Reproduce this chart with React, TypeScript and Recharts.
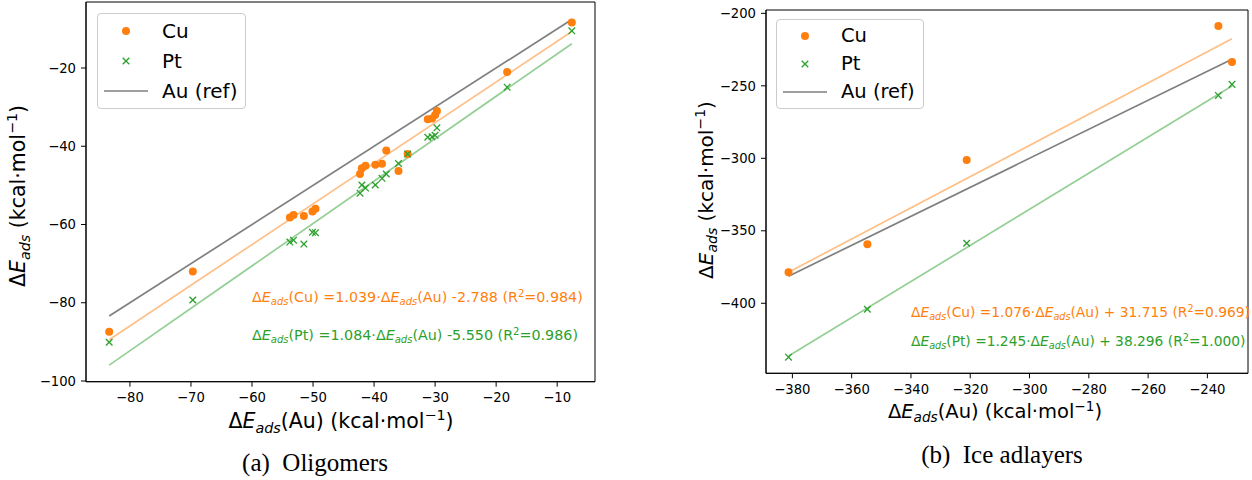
import React from 'react';
import { ScatterChart, Scatter, XAxis, YAxis, ReferenceArea, Legend } from 'recharts';

const ORANGE = '#ff7f0e';
const GREEN = '#2ca02c';
const ORANGE_FIT = '#ffbf86';
const GREEN_FIT = '#95cf95';
const GRAY = '#7f7f7f';
const FONT = '"DejaVu Sans", sans-serif';

// (a) Oligomers: ΔE_ads on Au (x) vs Cu / Pt (y), kcal/mol
const oligoAu = [-83.4, -69.7, -53.8, -53.2, -51.5, -50.1, -49.6, -42.3, -42.0, -41.4, -39.8, -38.7, -38.0, -36.0, -34.5, -31.2, -30.5, -30.0, -29.7, -18.2, -7.6];
const oligoCu = [-87.4, -72.0, -58.2, -57.6, -57.8, -56.7, -56.0, -47.1, -45.6, -45.0, -44.7, -44.5, -41.1, -46.3, -42.0, -33.1, -32.9, -32.0, -31.0, -21.0, -8.4];
const oligoPt = [-90.1, -79.3, -64.5, -64.0, -65.0, -62.0, -62.1, -52.0, -49.9, -50.7, -49.9, -48.2, -47.1, -44.4, -42.0, -37.7, -37.6, -37.2, -35.3, -24.9, -10.5];
const oligoCuFit = { slope: 1.039, intercept: -2.788, r2: '0.984' };
const oligoPtFit = { slope: 1.084, intercept: -5.55, r2: '0.986' };
const oligoXTicks = [-80, -70, -60, -50, -40, -30, -20, -10];
const oligoYTicks = [-100, -80, -60, -40, -20];

// (b) Ice adlayers
const iceAu = [-381.3, -354.7, -321.2, -236.3, -231.7];
const iceCu = [-378.6, -359.3, -301.2, -208.8, -233.6];
const icePt = [-437.2, -404.1, -358.6, -256.6, -249.0];
const iceCuFit = { slope: 1.076, intercept: 31.715, r2: '0.969' };
const icePtFit = { slope: 1.245, intercept: 38.296, r2: '1.000' };
const iceXTicks = [-380, -360, -340, -320, -300, -280, -260, -240];
const iceYTicks = [-400, -350, -300, -250, -200];

const pts = (xs: number[], ys: number[]) => xs.map((x, i) => ({ x, y: ys[i] }));
const fitLine = (xs: number[], f: { slope: number; intercept: number }) => {
  const lo = Math.min(...xs);
  const hi = Math.max(...xs);
  return [
    { x: lo, y: f.slope * lo + f.intercept },
    { x: hi, y: f.slope * hi + f.intercept },
  ];
};
const refLine = (xs: number[]) => {
  const lo = Math.min(...xs);
  const hi = Math.max(...xs);
  return [
    { x: lo, y: lo },
    { x: hi, y: hi },
  ];
};

const fmt = (v: number) => String(v).replace('-', '\u2212');

const Dot = (p: any) => <circle cx={p.cx} cy={p.cy} r={4} fill={ORANGE} />;
const Cross = (p: any) => (
  <g stroke={GREEN} strokeWidth={1.3}>
    <line x1={p.cx - 3.3} y1={p.cy - 3.3} x2={p.cx + 3.3} y2={p.cy + 3.3} />
    <line x1={p.cx - 3.3} y1={p.cy + 3.3} x2={p.cx + 3.3} y2={p.cy - 3.3} />
  </g>
);
const NoShape = () => <g />;

const ORDER = ['Cu', 'Pt', 'Au (ref)'];

const makeLegend = (rowH: number, fontSize: number) => (props: any) => {
  const items = (props.payload || [])
    .filter((e: any) => ORDER.includes(e.value))
    .sort((a: any, b: any) => ORDER.indexOf(a.value) - ORDER.indexOf(b.value));
  return (
    <div
      style={{
        border: '1px solid #cccccc',
        borderRadius: 4,
        background: 'rgba(255,255,255,0.8)',
        padding: '2px 8px 2px 0',
        fontFamily: FONT,
        fontSize,
        color: '#000',
      }}
    >
      {items.map((e: any) => (
        <div key={e.value} style={{ display: 'flex', alignItems: 'center', height: rowH }}>
          <svg width={58} height={rowH} style={{ display: 'block' }}>
            {e.value === 'Cu' && <circle cx={28} cy={rowH / 2} r={4} fill={ORANGE} />}
            {e.value === 'Pt' && (
              <g stroke={GREEN} strokeWidth={1.3}>
                <line x1={24.7} y1={rowH / 2 - 3.3} x2={31.3} y2={rowH / 2 + 3.3} />
                <line x1={24.7} y1={rowH / 2 + 3.3} x2={31.3} y2={rowH / 2 - 3.3} />
              </g>
            )}
            {e.value === 'Au (ref)' && (
              <line x1={6} y1={rowH / 2} x2={50} y2={rowH / 2} stroke={GRAY} strokeWidth={1.7} />
            )}
          </svg>
          <span style={{ marginLeft: 6, lineHeight: 1 }}>{e.value}</span>
        </div>
      ))}
    </div>
  );
};

type Part = { t: string; it?: boolean; sub?: boolean; sup?: boolean };

function Rich({ x, y, parts, size, fill, anchor, rotate, family }: any) {
  let shift = 0;
  const spans = parts.map((p: Part, i: number) => {
    const target = p.sub ? size * 0.22 : p.sup ? -size * 0.38 : 0;
    const dy = target - shift;
    shift = target;
    return (
      <tspan
        key={i}
        dy={dy}
        fontStyle={p.it ? 'italic' : 'normal'}
        fontSize={p.sub || p.sup ? size * 0.7 : size}
      >
        {p.t}
      </tspan>
    );
  });
  return (
    <text
      x={x}
      y={y}
      fontSize={size}
      fill={fill || '#000'}
      textAnchor={anchor || 'start'}
      fontFamily={family || FONT}
      style={{ whiteSpace: 'pre' }}
      transform={rotate ? `rotate(${rotate} ${x} ${y})` : undefined}
    >
      {spans}
    </text>
  );
}

const dE: Part[] = [{ t: 'Δ' }, { t: 'E', it: true }, { t: 'ads', it: true, sub: true }];
const yLabel: Part[] = [...dE, { t: ' (kcal·mol' }, { t: '−1', sup: true }, { t: ')' }];
const xLabel: Part[] = [...dE, { t: '(Au) (kcal·mol' }, { t: '−1', sup: true }, { t: ')' }];
const eq = (metal: string, f: { slope: number; intercept: number; r2: string }, digits: number): Part[] => {
  const icpt = f.intercept < 0 ? ` -${Math.abs(f.intercept).toFixed(digits)}` : ` + ${f.intercept.toFixed(digits)}`;
  return [
    ...dE,
    { t: `(${metal}) =${f.slope.toFixed(3)}·` },
    ...dE,
    { t: `(Au)${icpt} (R` },
    { t: '2', sup: true },
    { t: `=${f.r2})` },
  ];
};

type PanelProps = {
  left: number;
  width: number;
  height: number;
  margin: any;
  yAxisWidth: number;
  xAxisHeight: number;
  xDomain: [number, number];
  yDomain: [number, number];
  xTicks: number[];
  yTicks: number[];
  au: number[];
  cu: number[];
  pt: number[];
  cuFit: any;
  ptFit: any;
  legendPos: { left: number; top: number };
  rowH: number;
  legendFont: number;
};

function Panel(p: PanelProps) {
  const tickStyle = { fontSize: 13.2, fontFamily: FONT, fill: '#000' };
  return (
    <div style={{ position: 'absolute', left: p.left, top: 0 }}>
      <ScatterChart width={p.width} height={p.height} margin={p.margin}>
        <XAxis
          type="number"
          dataKey="x"
          domain={p.xDomain}
          allowDataOverflow
          ticks={p.xTicks}
          tickFormatter={fmt}
          height={p.xAxisHeight}
          tick={tickStyle}
          tickSize={5}
          tickMargin={6}
          stroke="#000"
          tickLine={{ stroke: '#000' }}
        />
        <YAxis
          type="number"
          dataKey="y"
          domain={p.yDomain}
          allowDataOverflow
          ticks={p.yTicks}
          tickFormatter={fmt}
          width={p.yAxisWidth}
          tick={tickStyle}
          tickSize={5}
          tickMargin={5}
          stroke="#000"
          tickLine={{ stroke: '#000' }}
        />
        <ReferenceArea
          x1={p.xDomain[0]}
          x2={p.xDomain[1]}
          y1={p.yDomain[0]}
          y2={p.yDomain[1]}
          fill="none"
          fillOpacity={0}
          stroke="#000"
          strokeWidth={1}
          ifOverflow="extendDomain"
        />
        <Scatter
          name="Au (ref)"
          data={refLine(p.au)}
          fill={GRAY}
          stroke={GRAY}
          line={{ stroke: GRAY, strokeWidth: 1.7 }}
          shape={NoShape}
          legendType="line"
          isAnimationActive={false}
        />
        <Scatter
          name="Cu fit"
          data={fitLine(p.au, p.cuFit)}
          fill={ORANGE_FIT}
          line={{ stroke: ORANGE_FIT, strokeWidth: 1.7 }}
          shape={NoShape}
          legendType="none"
          isAnimationActive={false}
        />
        <Scatter
          name="Pt fit"
          data={fitLine(p.au, p.ptFit)}
          fill={GREEN_FIT}
          line={{ stroke: GREEN_FIT, strokeWidth: 1.7 }}
          shape={NoShape}
          legendType="none"
          isAnimationActive={false}
        />
        <Scatter name="Cu" data={pts(p.au, p.cu)} fill={ORANGE} shape={Dot} legendType="circle" isAnimationActive={false} />
        <Scatter name="Pt" data={pts(p.au, p.pt)} fill={GREEN} shape={Cross} legendType="cross" isAnimationActive={false} />
        <Legend
          layout="vertical"
          align="center"
          verticalAlign="middle"
          content={makeLegend(p.rowH, p.legendFont)}
          wrapperStyle={{ left: p.legendPos.left, top: p.legendPos.top, width: 'auto', height: 'auto' }}
        />
      </ScatterChart>
    </div>
  );
}

export default function App() {
  return (
    <div style={{ position: 'absolute', left: 0, top: 0, width: 1252, height: 480, background: '#fff' }}>
      <Panel
        left={0}
        width={610}
        height={420}
        margin={{ top: 2, right: 15, bottom: 0, left: 0 }}
        yAxisWidth={86}
        xAxisHeight={38.3}
        xDomain={[-87.2, -3.8]}
        yDomain={[-100.18, -3.13]}
        xTicks={oligoXTicks}
        yTicks={oligoYTicks}
        au={oligoAu}
        cu={oligoCu}
        pt={oligoPt}
        cuFit={oligoCuFit}
        ptFit={oligoPtFit}
        legendPos={{ left: 97, top: 13 }}
        rowH={30}
        legendFont={20}
      />
      <Panel
        left={626}
        width={626}
        height={420}
        margin={{ top: 10, right: 4, bottom: 0, left: 0 }}
        yAxisWidth={140}
        xAxisHeight={46.7}
        xDomain={[-388.9, -226.3]}
        yDomain={[-448.3, -197.7]}
        xTicks={iceXTicks}
        yTicks={iceYTicks}
        au={iceAu}
        cu={iceCu}
        pt={icePt}
        cuFit={iceCuFit}
        ptFit={icePtFit}
        legendPos={{ left: 150, top: 19 }}
        rowH={28}
        legendFont={19.5}
      />
      <svg
        width={1252}
        height={480}
        style={{ position: 'absolute', left: 0, top: 0, pointerEvents: 'none' }}
      >
        <Rich x={25} y={196} parts={yLabel} size={20.5} anchor="middle" rotate={-90} />
        <Rich x={713} y={190} parts={yLabel} size={20} anchor="middle" rotate={-90} />
        <Rich x={341} y={428} parts={xLabel} size={20.5} anchor="middle" />
        <Rich x={995} y={418} parts={xLabel} size={19.5} anchor="middle" />
        <Rich x={252} y={302} parts={eq('Cu', oligoCuFit, 3)} size={14.3} fill={ORANGE} />
        <Rich x={252} y={340} parts={eq('Pt', oligoPtFit, 3)} size={14.3} fill={GREEN} />
        <Rich x={911} y={317} parts={eq('Cu', iceCuFit, 3)} size={13.8} fill={ORANGE} />
        <Rich x={911} y={346} parts={eq('Pt', icePtFit, 3)} size={13.8} fill={GREEN} />
        <Rich x={315} y={471} parts={[{ t: '(a)  Oligomers' }]} size={25} anchor="middle" family='"Liberation Serif", serif' />
        <Rich x={1002} y={463} parts={[{ t: '(b)  Ice adlayers' }]} size={25} anchor="middle" family='"Liberation Serif", serif' />
      </svg>
    </div>
  );
}
